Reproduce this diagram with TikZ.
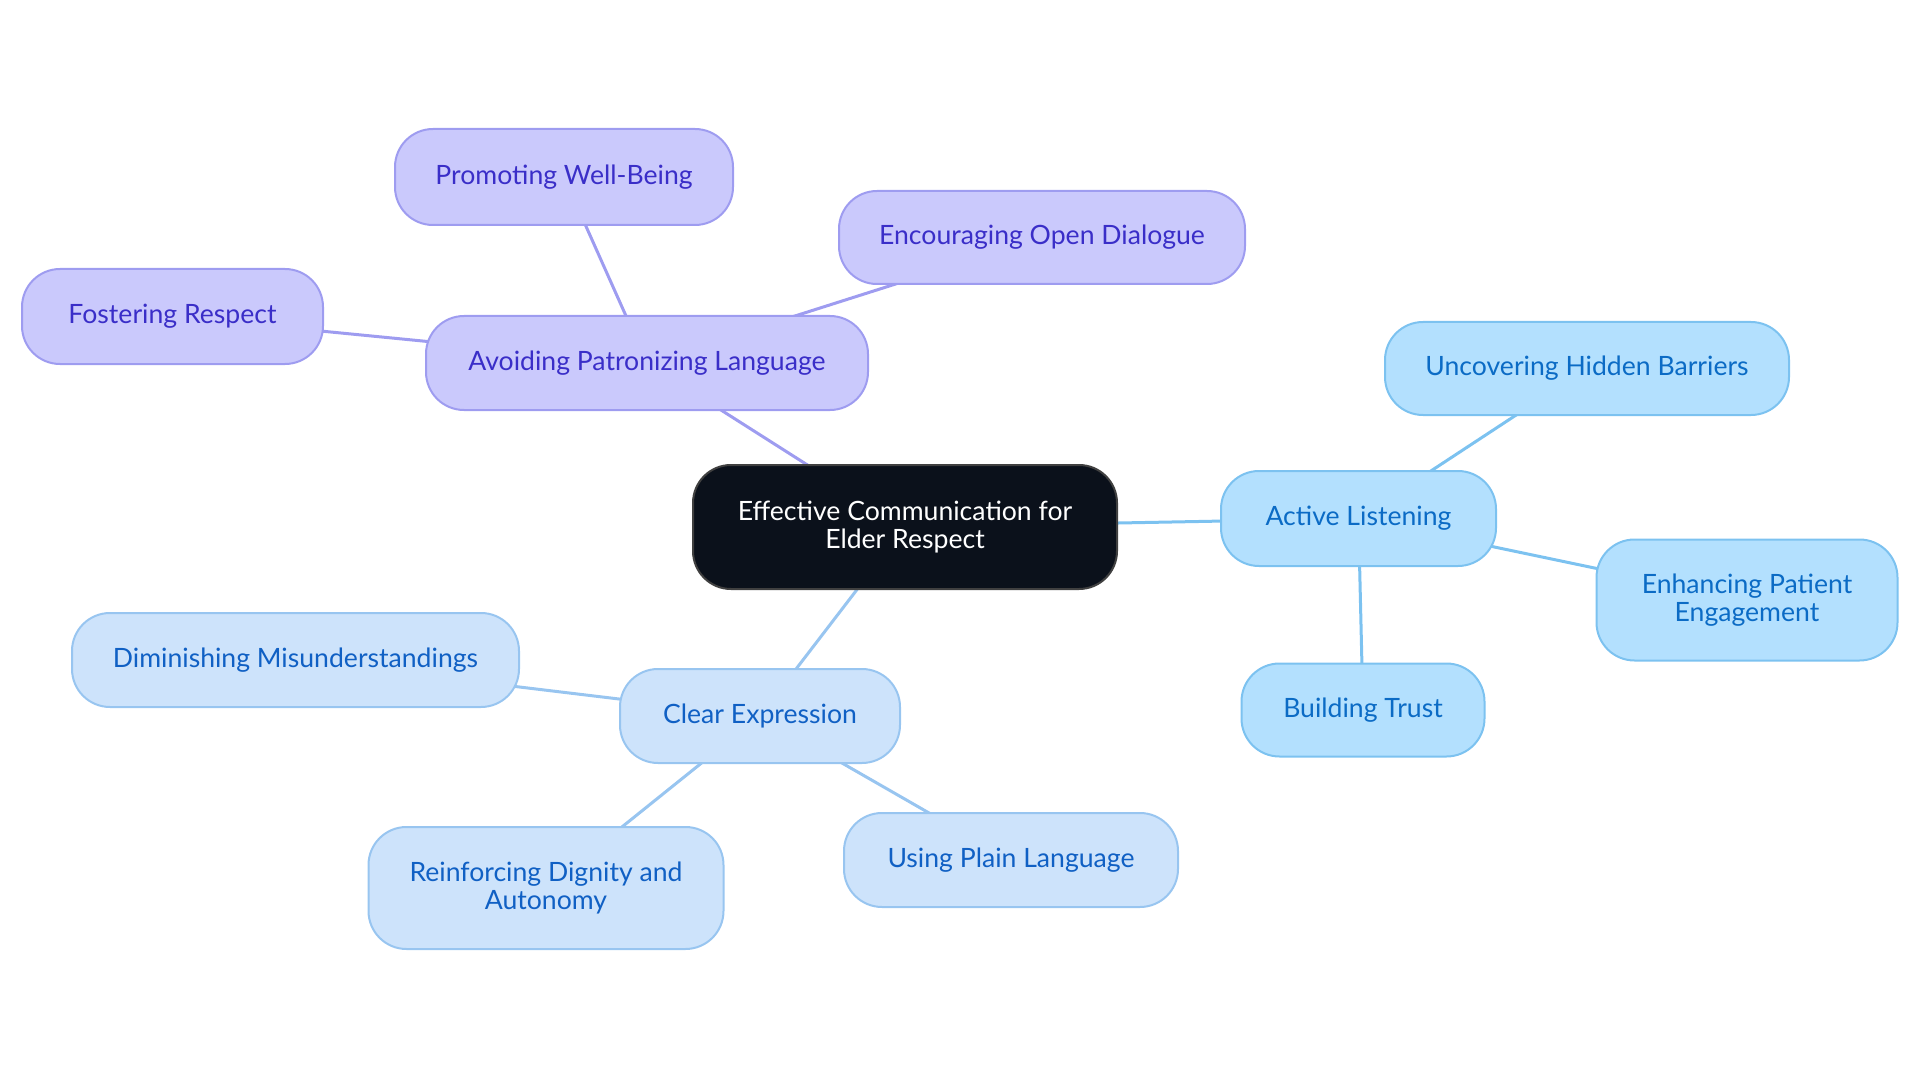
\documentclass[tikz,border=0pt]{standalone}
\usepackage{fontspec}
\setmainfont{Lato}
\usetikzlibrary{backgrounds}
\definecolor{purFill}{HTML}{CAC9FC}
\definecolor{purLine}{HTML}{9E9CF0}
\definecolor{purText}{HTML}{3A2EC8}
\definecolor{bluFill}{HTML}{B3E0FE}
\definecolor{bluLine}{HTML}{7CC2F0}
\definecolor{bluText}{HTML}{0B6BC5}
\definecolor{lbFill}{HTML}{CDE3FB}
\definecolor{lbLine}{HTML}{98C5F0}
\definecolor{lbText}{HTML}{1060C4}
\definecolor{rootFill}{HTML}{0B111B}
\tikzset{
  base/.style={rounded corners=38pt, line width=2pt, inner sep=0pt, align=center,
    font=\fontsize{26.6}{28}\selectfont, minimum height=94pt},
  rootbox/.style={base, fill=rootFill, draw=black!75, text=white},
  purbox/.style={base, fill=purFill, draw=purLine, text=purText},
  blubox/.style={base, fill=bluFill, draw=bluLine, text=bluText},
  lbbox/.style={base, fill=lbFill, draw=lbLine, text=lbText},
  puredge/.style={draw=purLine, line width=3pt},
  bluedge/.style={draw=bluLine, line width=3pt},
  lbedge/.style={draw=lbLine, line width=3pt},
}
\begin{document}
\begin{tikzpicture}[x=1pt,y=-1pt]
\useasboundingbox (0,0) rectangle (1920,1083);
\node[rootbox, minimum width=424pt, minimum height=124pt] (root) at (905,527) {Effective Communication for\\Elder Respect};
% Active listening branch
\node[blubox, minimum width=275pt, minimum height=95pt] (al) at (1358.5,518.5) {Active Listening};
\node[blubox, minimum width=404pt, minimum height=93pt] (uhb) at (1587,368.5) {Uncovering Hidden Barriers};
\node[blubox, minimum width=301pt, minimum height=121pt] (epe) at (1747,600) {Enhancing Patient\\Engagement};
\node[blubox, minimum width=243pt, minimum height=93pt] (bt) at (1363,710) {Building Trust};
% Avoiding patronizing branch
\node[purbox, minimum width=442pt, minimum height=94pt] (apl) at (647,363) {Avoiding Patronizing Language};
\node[purbox, minimum width=338pt, minimum height=96pt] (pwb) at (564,177) {Promoting Well-Being};
\node[purbox, minimum width=406pt, minimum height=93pt] (eod) at (1042,237.5) {Encouraging Open Dialogue};
\node[purbox, minimum width=301pt, minimum height=95pt] (fr) at (172.5,316.5) {Fostering Respect};
% Clear expression branch
\node[lbbox, minimum width=280pt, minimum height=94pt] (ce) at (760,716) {Clear Expression};
\node[lbbox, minimum width=447pt, minimum height=94pt] (dm) at (295.5,660) {Diminishing Misunderstandings};
\node[lbbox, minimum width=355pt, minimum height=122pt] (rda) at (546,888) {Reinforcing Dignity and\\Autonomy};
\node[lbbox, minimum width=334pt, minimum height=94pt] (upl) at (1011,860) {Using Plain Language};
\begin{scope}[on background layer]
\draw[bluedge] (root.center) -- (al.center);
\draw[bluedge] (al.center) -- (uhb.center);
\draw[bluedge] (al.center) -- (epe.center);
\draw[bluedge] (al.center) -- (bt.center);
\draw[puredge] (root.center) -- (apl.center);
\draw[puredge] (apl.center) -- (pwb.center);
\draw[puredge] (apl.center) -- (eod.center);
\draw[puredge] (apl.center) -- (fr.center);
\draw[lbedge] (root.center) -- (ce.center);
\draw[lbedge] (ce.center) -- (dm.center);
\draw[lbedge] (ce.center) -- (rda.center);
\draw[lbedge] (ce.center) -- (upl.center);
\end{scope}
\end{tikzpicture}
\end{document}
